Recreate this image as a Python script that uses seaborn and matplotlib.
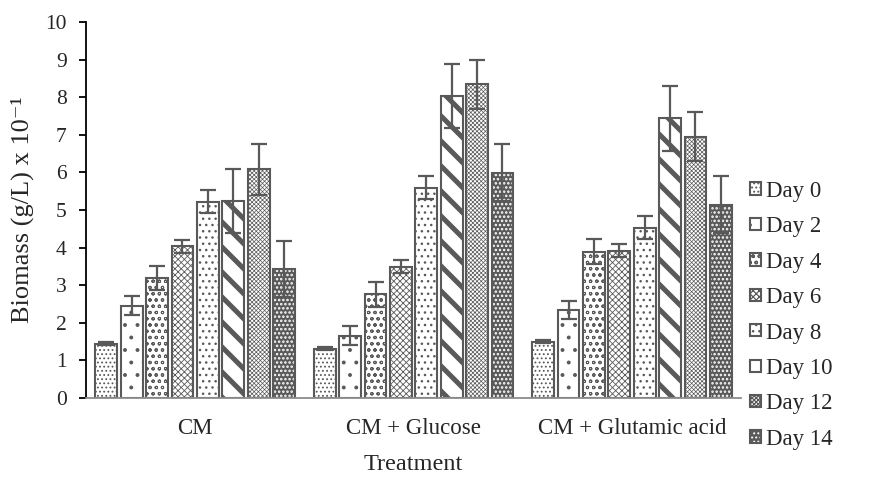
import matplotlib
matplotlib.use("Agg")
import matplotlib.pyplot as plt
import matplotlib.patches as mpatches
from matplotlib.legend_handler import HandlerTuple
import pandas as pd
import seaborn as sns

# Biomass (g/L x 10^-1) per treatment and sampling day, with error margins
treatments = ["CM", "CM + Glucose", "CM + Glutamic acid"]
days = ["Day 0", "Day 2", "Day 4", "Day 6", "Day 8", "Day 10", "Day 12", "Day 14"]

cm_mean = [1.44, 2.45, 3.20, 4.03, 5.22, 5.24, 6.08, 3.43]
glucose_mean = [1.31, 1.66, 2.76, 3.49, 5.59, 8.04, 8.34, 5.99]
glutamic_mean = [1.50, 2.34, 3.89, 3.92, 4.53, 7.44, 6.95, 5.14]

cm_err = [0.04, 0.25, 0.32, 0.18, 0.31, 0.85, 0.67, 0.75]
glucose_err = [0.04, 0.25, 0.33, 0.17, 0.31, 0.85, 0.65, 0.76]
glutamic_err = [0.04, 0.24, 0.33, 0.17, 0.30, 0.86, 0.65, 0.76]

means = {"CM": cm_mean, "CM + Glucose": glucose_mean, "CM + Glutamic acid": glutamic_mean}
errs = {"CM": cm_err, "CM + Glucose": glucose_err, "CM + Glutamic acid": glutamic_err}

rows = []
for t in treatments:
    for d, m, e in zip(days, means[t], errs[t]):
        rows.append({"Treatment": t, "Day": d, "Biomass": m, "Err": e})
df = pd.DataFrame(rows)

# render at 75 dpi so hatch tiles are 75 px; sizes in points are scaled to compensate
DPI = 75
K = 100 / DPI

sns.set_theme(style="white")
plt.rcParams["font.family"] = ["Liberation Serif", "DejaVu Serif"]
plt.rcParams["hatch.linewidth"] = 0.9 * K

GREY = "#595959"

fig = plt.figure(figsize=(872 / DPI, 477 / DPI), dpi=DPI)
ax = fig.add_axes([0.0986, 0.1656, 0.7514, 0.7883])

sns.barplot(data=df, x="Treatment", y="Biomass", hue="Day",
            order=treatments, hue_order=days, width=0.93, gap=0.14,
            palette=["white"] * len(days),
            edgecolor=GREY, linewidth=1.5 * K, legend=False, ax=ax)

hatches = ["...", ".", "oo", "xxxx", "..", "\\", "xxxxxx", "..."]
hatch_lw = [0.8, 1.0, 0.7, 0.6, 0.9, 3.6, 0.5, 1.2]

for i, (cont, h, lw) in enumerate(zip(ax.containers, hatches, hatch_lw)):
    for p in cont.patches:
        p.set_hatch(h)
        try:
            p.set_hatch_linewidth(lw * K)
        except AttributeError:
            pass
        if i == len(days) - 1:
            # dark bar with light marks, outlined separately
            p.set_facecolor(GREY)
            p.set_edgecolor("white")
            p.set_linewidth(0)
            rect = mpatches.Rectangle(p.get_xy(), p.get_width(), p.get_height(),
                                      fill=False, edgecolor=GREY, linewidth=1.5 * K,
                                      zorder=p.get_zorder() + 0.1)
            ax.add_patch(rect)

# error bars centred on each bar
for cont, d in zip(ax.containers, days):
    sub = df[df["Day"] == d].set_index("Treatment").loc[treatments]
    xs = [p.get_x() + p.get_width() / 2 for p in cont.patches]
    ax.errorbar(xs, sub["Biomass"].values, yerr=sub["Err"].values, fmt="none",
                ecolor=GREY, elinewidth=1.6 * K, capsize=5.5 * K,
                capthick=1.6 * K, zorder=5)

ax.set_ylim(0, 10)
ax.set_yticks(range(0, 11))
ax.set_xlim(-0.5, 2.5)

for side in ["top", "right"]:
    ax.spines[side].set_visible(False)
ax.spines["left"].set_color("black")
ax.spines["left"].set_linewidth(1.3 * K)
ax.spines["bottom"].set_color("#8c8c8c")
ax.spines["bottom"].set_linewidth(1.3 * K)

ax.tick_params(axis="y", left=True, length=5 * K, width=1.3 * K,
               color="black", labelsize=15.5 * K, pad=9 * K, direction="out")
ax.tick_params(axis="x", bottom=False, labelsize=16.5 * K, pad=10 * K)

ax.set_xlabel("Treatment", fontsize=17.5 * K, labelpad=11 * K)
ax.set_ylabel("Biomass (g/L) x 10\u207b\u00b9", fontsize=19 * K, labelpad=8 * K)

# legend handles mirroring each bar style
handles = []
for i, (h, lw) in enumerate(zip(hatches, hatch_lw)):
    if i == len(days) - 1:
        fill = mpatches.Patch(facecolor=GREY, edgecolor="white", hatch=h, linewidth=0)
        edge = mpatches.Patch(facecolor="none", edgecolor=GREY, linewidth=1.5 * K)
        handles.append((fill, edge))
    else:
        handles.append(mpatches.Patch(facecolor="white", edgecolor=GREY,
                                      hatch=h, linewidth=1.5 * K))

ax.legend(handles, days, loc="center left", bbox_to_anchor=(1.0, 0.22),
          frameon=False, fontsize=16.5 * K, handlelength=0.45, handleheight=0.45,
          handletextpad=0.25, labelspacing=0.63, borderaxespad=0.1, borderpad=0.3,
          handler_map={tuple: HandlerTuple(ndivide=1, pad=0)})

fig.savefig("out.png", dpi=DPI)
